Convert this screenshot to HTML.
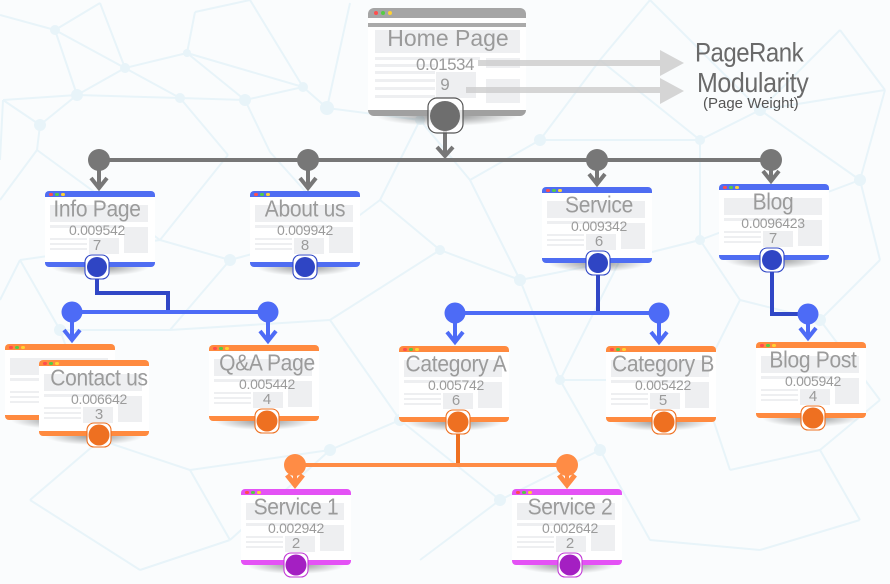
<!DOCTYPE html>
<html><head><meta charset="utf-8"><style>
*{margin:0;padding:0;box-sizing:border-box}
html,body{width:890px;height:584px;overflow:hidden;background:#fafcfd}
#wrap{position:relative;width:890px;height:584px;font-family:"Liberation Sans",sans-serif}
svg{position:absolute;left:0;top:0}
.card{position:absolute;width:110px;height:76px;background:#fff;border-radius:4px}
.card .hd{position:absolute;left:0;top:0;width:110px;height:6px;border-radius:4px 4px 0 0}
.card .ft{position:absolute;left:0;top:71px;width:110px;height:5px;border-radius:0 0 4px 4px}
.card .sh{position:absolute;left:6px;top:76px;width:98px;height:9px;background:radial-gradient(ellipse 50% 100% at 50% 0,rgba(0,0,0,.42),rgba(0,0,0,0) 100%)}
.hd i{position:absolute;top:1.5px;width:3.5px;height:3.5px;border-radius:50%}
.hd i.r{left:4px;background:#ff4d4d}.hd i.g{left:10px;background:#55cc44}.hd i.y{left:16px;background:#ffd233}
.bx{position:absolute;background:#eeeff1}
.b1{left:5px;top:14px;width:98px;height:17px}
.b2{left:5px;top:34px;width:72px;height:3px}
.b3{left:79px;top:36px;width:24px;height:26px}
.b4{left:5px;top:47px;width:37px;height:2px}
.b5{left:5px;top:52px;width:37px;height:2px}
.b6{left:5px;top:57px;width:37px;height:2px}
.b7{left:44px;top:47px;width:30px;height:16px}
.blue .hd,.blue .ft{background:#4f6df2}
.orange .hd,.orange .ft{background:#ff8a3f}
.purple .hd,.purple .ft{background:#e452f5}
.tx{position:absolute;width:130px;left:calc(var(--c) - 65px);text-align:center;color:#9b9b9b;line-height:1;white-space:nowrap}
.t1{top:9px;font-size:21px;letter-spacing:-0.3px;transform:scaleY(1.08);transform-origin:50% 100%}
.t2{top:32px;font-size:14px;letter-spacing:-0.3px}
.t3{top:47px;font-size:15px}
.abs{position:absolute;line-height:1;white-space:nowrap}
</style></head><body><div id="wrap">

<svg width="890" height="584" viewBox="0 0 890 584">
<g stroke="#e8f4f9" stroke-width="2" fill="none">
<path d="M0 15L55 30M55 30L100 3M55 30L125 68M55 30L77 95M100 3L125 68M125 68L187 53M195 12L187 53M187 53L245 100M187 53L303 87M125 68L77 95M125 68L180 98M77 95L180 98M77 95L3 100M77 95L40 125M3 100L40 125M40 125L37 150M180 98L245 100M180 98L228 155M245 100L303 87M245 100L270 152M303 87L327 108M327 108L350 3M250 0L303 87M195 12L250 0M3 100L0 160M37 150L0 200
M327 108L420 120M420 120L380 200M420 120L470 180M470 180L540 140M540 140L600 60M600 60L650 0M600 60L700 140M540 140L700 140M700 140L760 110M760 110L840 30M840 30L885 90M760 110L885 90M885 90L860 180M760 110L860 180M860 180L880 260M860 180L700 240M700 140L700 240M700 240L620 260M620 260L520 280M520 280L440 250M440 250L380 200M380 200L340 230M340 230L230 260M230 260L160 240M160 240L20 260M228 155L160 240M270 152L340 230M20 260L60 330M60 330L170 330M170 330L230 260M170 330L330 320M330 320L440 250M330 320L400 420M520 280L560 380M560 380L600 450M560 380L700 380M700 380L740 300M740 300L820 320M820 320L880 260M820 320L880 400M700 380L730 470M730 470L820 450M820 450L880 400M820 450L860 520M860 520L760 550M760 550L650 540M650 540L600 450M600 450L500 500M500 500L420 560M500 500L400 420M400 420L330 450M330 450L190 470M190 470L100 440M100 440L30 500M30 500L140 570M140 570L230 540M230 540L330 450M100 440L60 330M190 470L230 540M700 240L740 300M620 260L560 380M470 180L520 280M20 260L0 300M37 150L160 240M650 0L760 110"/>
</g>
<g fill="#e8f4f9">
<circle cx="55" cy="30" r="5"/><circle cx="125" cy="68" r="5"/><circle cx="77" cy="95" r="6"/><circle cx="40" cy="125" r="6"/><circle cx="187" cy="53" r="4"/><circle cx="245" cy="100" r="6"/><circle cx="303" cy="87" r="5"/><circle cx="327" cy="108" r="7"/><circle cx="180" cy="98" r="5"/><circle cx="420" cy="120" r="5"/><circle cx="540" cy="140" r="6"/><circle cx="700" cy="140" r="5"/><circle cx="760" cy="110" r="6"/><circle cx="860" cy="180" r="6"/><circle cx="700" cy="240" r="5"/><circle cx="520" cy="280" r="6"/><circle cx="440" cy="250" r="5"/><circle cx="230" cy="260" r="6"/><circle cx="60" cy="330" r="6"/><circle cx="560" cy="380" r="5"/><circle cx="600" cy="450" r="6"/><circle cx="820" cy="320" r="6"/><circle cx="400" cy="420" r="6"/><circle cx="100" cy="440" r="5"/><circle cx="330" cy="450" r="6"/><circle cx="500" cy="500" r="6"/>
</g>
</svg>

<!-- Home card -->
<div style="position:absolute;left:368px;top:8px;width:158px;height:108px;background:#fff;border-radius:6px">
 <div style="position:absolute;left:0;top:0;width:158px;height:10px;background:#a5a5a5;border-radius:6px 6px 0 0"></div>
 <i style="position:absolute;left:6px;top:3px;width:4px;height:4px;border-radius:50%;background:#ff4d4d"></i>
 <i style="position:absolute;left:13px;top:3px;width:4px;height:4px;border-radius:50%;background:#55cc44"></i>
 <i style="position:absolute;left:20px;top:3px;width:4px;height:4px;border-radius:50%;background:#ffd233"></i>
 <div style="position:absolute;left:0;top:15px;width:158px;height:4px;background:#aaa"></div>
 <div class="bx" style="left:7px;top:22px;width:145px;height:23px"></div>
 <div class="bx" style="left:7px;top:49px;width:105px;height:3px"></div>
 <div class="bx" style="left:7px;top:56px;width:60px;height:3px"></div>
 <div class="bx" style="left:7px;top:63px;width:60px;height:3px"></div>
 <div class="bx" style="left:7px;top:71px;width:60px;height:3px"></div>
 <div class="bx" style="left:7px;top:79px;width:60px;height:3px"></div>
 <div class="bx" style="left:7px;top:87px;width:60px;height:3px"></div>
 <div class="bx" style="left:68px;top:64px;width:40px;height:26px"></div>
 <div class="bx" style="left:118px;top:50px;width:34px;height:10px"></div>
 <div class="bx" style="left:118px;top:71px;width:34px;height:24px"></div>
 <div style="position:absolute;left:0;top:102px;width:158px;height:6px;background:#a0a0a0;border-radius:0 0 6px 6px"></div>
 <div style="position:absolute;left:8px;top:108px;width:142px;height:10px;background:radial-gradient(ellipse 50% 100% at 50% 0,rgba(0,0,0,.45),rgba(0,0,0,0) 100%)"></div>
</div>
<div class="abs" style="left:368px;width:160px;text-align:center;top:27px;font-size:23px;color:#9a9a9a">Home Page</div>
<div class="abs" style="left:395px;width:100px;text-align:center;top:56px;font-size:17px;color:#9a9a9a;letter-spacing:-0.5px">0.01534</div>
<div class="abs" style="left:425px;width:40px;text-align:center;top:76px;font-size:17px;color:#9a9a9a">9</div>

<div class="abs" style="left:695px;top:43px;font-size:24px;color:#6a6a6a;letter-spacing:-0.5px;transform:scaleY(1.12);transform-origin:0 100%">PageRank</div>
<div class="abs" style="left:697px;top:72px;font-size:25px;color:#6a6a6a;letter-spacing:-0.4px;transform:scaleY(1.1);transform-origin:0 80%">Modularity</div>
<div class="abs" style="left:703px;top:96px;font-size:15px;color:#555">(Page Weight)</div>

<!-- Row 2 blue -->
<div class="card blue" style="left:45px;top:191px;--c:52px"><div class="hd"><i class="r"></i><i class="g"></i><i class="y"></i></div><div class="bx b1"></div><div class="bx b2"></div><div class="bx b3"></div><div class="bx b4"></div><div class="bx b5"></div><div class="bx b6"></div><div class="bx b7"></div><div class="ft"></div><div class="sh"></div><div class="tx t1">Info Page</div><div class="tx t2">0.009542</div><div class="tx t3">7</div></div>
<div class="card blue" style="left:250px;top:191px;--c:55px"><div class="hd"><i class="r"></i><i class="g"></i><i class="y"></i></div><div class="bx b1"></div><div class="bx b2"></div><div class="bx b3"></div><div class="bx b4"></div><div class="bx b5"></div><div class="bx b6"></div><div class="bx b7"></div><div class="ft"></div><div class="sh"></div><div class="tx t1">About us</div><div class="tx t2">0.009942</div><div class="tx t3">8</div></div>
<div class="card blue" style="left:542px;top:187px;--c:57px"><div class="hd"><i class="r"></i><i class="g"></i><i class="y"></i></div><div class="bx b1"></div><div class="bx b2"></div><div class="bx b3"></div><div class="bx b4"></div><div class="bx b5"></div><div class="bx b6"></div><div class="bx b7"></div><div class="ft"></div><div class="sh"></div><div class="tx t1">Service</div><div class="tx t2">0.009342</div><div class="tx t3">6</div></div>
<div class="card blue" style="left:719px;top:184px;--c:54px"><div class="hd"><i class="r"></i><i class="g"></i><i class="y"></i></div><div class="bx b1"></div><div class="bx b2"></div><div class="bx b3"></div><div class="bx b4"></div><div class="bx b5"></div><div class="bx b6"></div><div class="bx b7"></div><div class="ft"></div><div class="sh"></div><div class="tx t1">Blog</div><div class="tx t2">0.0096423</div><div class="tx t3">7</div></div>

<!-- Row 3 orange -->
<div class="card orange" style="left:5px;top:344px;--c:55px"><div class="hd"><i class="r"></i><i class="g"></i><i class="y"></i></div><div class="bx b1"></div><div class="bx b2"></div><div class="bx b3"></div><div class="bx b4"></div><div class="bx b5"></div><div class="bx b6"></div><div class="bx b7"></div><div class="ft"></div><div class="sh"></div></div>
<div class="card orange" style="left:39px;top:360px;--c:60px"><div class="hd"><i class="r"></i><i class="g"></i><i class="y"></i></div><div class="bx b1"></div><div class="bx b2"></div><div class="bx b3"></div><div class="bx b4"></div><div class="bx b5"></div><div class="bx b6"></div><div class="bx b7"></div><div class="ft"></div><div class="sh"></div><div class="tx t1">Contact us</div><div class="tx t2">0.006642</div><div class="tx t3">3</div></div>
<div class="card orange" style="left:209px;top:345px;--c:58px"><div class="hd"><i class="r"></i><i class="g"></i><i class="y"></i></div><div class="bx b1"></div><div class="bx b2"></div><div class="bx b3"></div><div class="bx b4"></div><div class="bx b5"></div><div class="bx b6"></div><div class="bx b7"></div><div class="ft"></div><div class="sh"></div><div class="tx t1">Q&amp;A Page</div><div class="tx t2">0.005442</div><div class="tx t3">4</div></div>
<div class="card orange" style="left:399px;top:346px;--c:57px"><div class="hd"><i class="r"></i><i class="g"></i><i class="y"></i></div><div class="bx b1"></div><div class="bx b2"></div><div class="bx b3"></div><div class="bx b4"></div><div class="bx b5"></div><div class="bx b6"></div><div class="bx b7"></div><div class="ft"></div><div class="sh"></div><div class="tx t1">Category A</div><div class="tx t2">0.005742</div><div class="tx t3">6</div></div>
<div class="card orange" style="left:606px;top:346px;--c:57px"><div class="hd"><i class="r"></i><i class="g"></i><i class="y"></i></div><div class="bx b1"></div><div class="bx b2"></div><div class="bx b3"></div><div class="bx b4"></div><div class="bx b5"></div><div class="bx b6"></div><div class="bx b7"></div><div class="ft"></div><div class="sh"></div><div class="tx t1">Category B</div><div class="tx t2">0.005422</div><div class="tx t3">5</div></div>
<div class="card orange" style="left:756px;top:342px;--c:57px"><div class="hd"><i class="r"></i><i class="g"></i><i class="y"></i></div><div class="bx b1"></div><div class="bx b2"></div><div class="bx b3"></div><div class="bx b4"></div><div class="bx b5"></div><div class="bx b6"></div><div class="bx b7"></div><div class="ft"></div><div class="sh"></div><div class="tx t1">Blog Post</div><div class="tx t2">0.005942</div><div class="tx t3">4</div></div>

<!-- Row 4 purple -->
<div class="card purple" style="left:241px;top:489px;--c:55px"><div class="hd"><i class="r"></i><i class="g"></i><i class="y"></i></div><div class="bx b1"></div><div class="bx b2"></div><div class="bx b3"></div><div class="bx b4"></div><div class="bx b5"></div><div class="bx b6"></div><div class="bx b7"></div><div class="ft"></div><div class="sh"></div><div class="tx t1">Service 1</div><div class="tx t2">0.002942</div><div class="tx t3">2</div></div>
<div class="card purple" style="left:512px;top:489px;--c:58px"><div class="hd"><i class="r"></i><i class="g"></i><i class="y"></i></div><div class="bx b1"></div><div class="bx b2"></div><div class="bx b3"></div><div class="bx b4"></div><div class="bx b5"></div><div class="bx b6"></div><div class="bx b7"></div><div class="ft"></div><div class="sh"></div><div class="tx t1">Service 2</div><div class="tx t2">0.002642</div><div class="tx t3">2</div></div>

<!-- Overlay connectors -->
<svg width="890" height="584" viewBox="0 0 890 584">
<g fill="#cfcfcf" opacity="0.85">
<rect x="478" y="60" width="184" height="6"/><polygon points="660,50 684,63 660,76"/>
<rect x="466" y="87" width="196" height="6"/><polygon points="660,78 684,91 660,104"/>
</g>
<g stroke="#777" stroke-width="4" fill="none" stroke-linejoin="miter">
<line x1="99" y1="160" x2="771" y2="160"/>
<line x1="445" y1="130" x2="445" y2="156"/><polyline points="437,147 445,156 453,147"/>
<line x1="99" y1="160" x2="99" y2="188"/><polyline points="91,178 99,188 107,178"/>
<line x1="308" y1="160" x2="308" y2="188"/><polyline points="300,178 308,188 316,178"/>
<line x1="597" y1="160" x2="597" y2="184"/><polyline points="589,174 597,184 605,174"/>
<line x1="771" y1="160" x2="771" y2="181"/><polyline points="763,171 771,181 779,171"/>
</g>
<g fill="#777"><circle cx="99" cy="160" r="11"/><circle cx="308" cy="160" r="11"/><circle cx="597" cy="160" r="11"/><circle cx="771" cy="160" r="11"/></g>
<rect x="428" y="98" width="35" height="35" rx="9" fill="#fff" fill-opacity="0.7" stroke="#555" stroke-width="1.2"/>
<circle cx="445" cy="116" r="15" fill="#6e6e6e"/>

<g stroke="#3047c6" stroke-width="4" fill="none">
<polyline points="97,267 97,293 168,293 168,312"/>
<line x1="598" y1="263" x2="598" y2="313"/>
<polyline points="772,260 772,314 808,314"/>
</g>
<g stroke="#4d6bf6" stroke-width="4" fill="none">
<line x1="72" y1="312" x2="268" y2="312"/>
<line x1="455" y1="313" x2="659" y2="313"/>
<line x1="72" y1="312" x2="72" y2="340"/><polyline points="64,330 72,340 80,330"/>
<line x1="268" y1="312" x2="268" y2="341"/><polyline points="260,331 268,341 276,331"/>
<line x1="455" y1="313" x2="455" y2="342"/><polyline points="447,332 455,342 463,332"/>
<line x1="659" y1="313" x2="659" y2="342"/><polyline points="651,332 659,342 667,332"/>
<line x1="808" y1="314" x2="808" y2="338"/><polyline points="800,328 808,338 816,328"/>
</g>
<g fill="#4d6bf6"><circle cx="72" cy="312" r="10.5"/><circle cx="268" cy="312" r="10.5"/><circle cx="455" cy="313" r="10.5"/><circle cx="659" cy="313" r="10.5"/><circle cx="808" cy="314" r="10.5"/></g>
<g fill="#fff" stroke="#3047c6" stroke-width="1.1">
<rect x="85" y="255" width="24" height="24" rx="7"/><rect x="293" y="255" width="24" height="24" rx="7"/><rect x="586" y="251" width="24" height="24" rx="7"/><rect x="760" y="248" width="24" height="24" rx="7"/>
</g>
<g fill="#2f45c4"><circle cx="97" cy="267" r="10"/><circle cx="305" cy="267" r="10"/><circle cx="598" cy="263" r="10"/><circle cx="772" cy="260" r="10"/></g>

<g stroke="#ee7020" stroke-width="4" fill="none"><line x1="458" y1="422" x2="458" y2="465"/></g>
<g stroke="#ff8c45" stroke-width="4" fill="none">
<line x1="295" y1="465" x2="567" y2="465"/>
<line x1="295" y1="465" x2="295" y2="484"/><polyline points="287,475 295,485 303,475" stroke-width="5"/>
<line x1="567" y1="465" x2="567" y2="484"/><polyline points="559,475 567,485 575,475" stroke-width="5"/>
</g>
<g fill="#ff8c45"><circle cx="295" cy="465" r="11"/><circle cx="567" cy="465" r="11"/></g>
<g fill="#fff" stroke="#ee7020" stroke-width="1.1">
<rect x="87" y="423" width="24" height="24" rx="7"/><rect x="255" y="409" width="24" height="24" rx="7"/><rect x="446" y="410" width="24" height="24" rx="7"/><rect x="652" y="410" width="24" height="24" rx="7"/><rect x="801" y="406" width="24" height="24" rx="7"/>
</g>
<g fill="#ee7021"><circle cx="99" cy="435" r="10.5"/><circle cx="267" cy="421" r="10.5"/><circle cx="458" cy="422" r="10.5"/><circle cx="664" cy="422" r="10.5"/><circle cx="813" cy="418" r="10.5"/></g>

<g fill="#fff" stroke="#c23ad6" stroke-width="1.1">
<rect x="284" y="553" width="24" height="24" rx="7"/><rect x="558" y="553" width="24" height="24" rx="7"/>
</g>
<g fill="#a41fc2"><circle cx="296" cy="565" r="10.5"/><circle cx="570" cy="565" r="10.5"/></g>
</svg>

</div></body></html>
